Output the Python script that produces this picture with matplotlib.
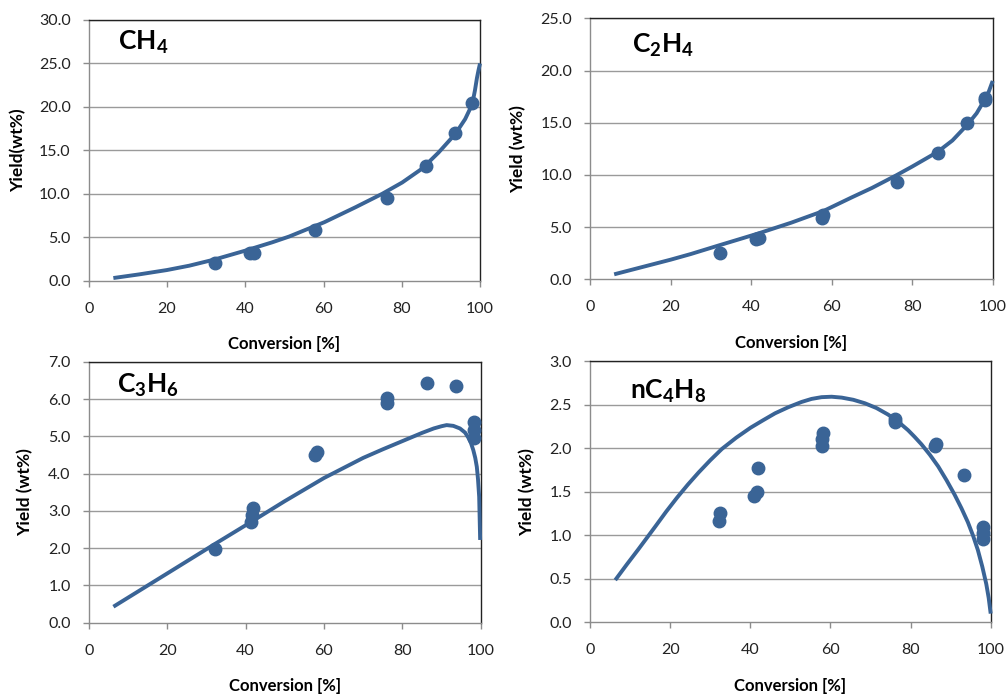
import matplotlib
matplotlib.use("Agg")
import matplotlib.pyplot as plt
from matplotlib.ticker import FormatStrFormatter

plt.rcParams['font.family'] = ['Lato', 'DejaVu Sans']
plt.rcParams['mathtext.fontset'] = 'custom'
plt.rcParams['mathtext.rm'] = 'Lato'
plt.rcParams['mathtext.bf'] = 'Lato:bold'
plt.rcParams['mathtext.it'] = 'Lato:italic'

BLUE = '#3a6496'

# ---------------- data ----------------
# CH4
ch4_exp_x = [32.3, 41.3, 42.2, 57.8, 76.2, 86.3, 93.6, 97.9]
ch4_exp_y = [2.0, 3.15, 3.2, 5.83, 9.47, 13.25, 17.0, 20.4]
ch4_mod_x = [6.3, 12.9, 20, 25.7, 32.3, 40, 46.9, 51.2, 60.2, 68.2, 75, 80.1, 85.2, 89.4, 93.7, 96.2, 98, 98.7, 99.2, 99.6, 100]
ch4_mod_y = [0.31, 0.73, 1.23, 1.73, 2.46, 3.46, 4.42, 5.08, 6.73, 8.46, 10.0, 11.3, 12.9, 14.75, 16.9, 18.6, 20.3, 21.9, 23.3, 24.2, 25.0]

# C2H4
c2h4_exp_x = [32.3, 41.2, 42.0, 57.7, 57.8, 76.2, 86.3, 93.5, 98.0, 98.2]
c2h4_exp_y = [2.49, 3.9, 4.0, 5.9, 6.15, 9.36, 12.1, 14.94, 17.2, 17.4]
c2h4_mod_x = [6.0, 10, 15, 20, 25, 32, 38, 42, 50, 58, 65, 70, 76, 80, 86.3, 90, 93.8, 96, 98, 99, 100]
c2h4_mod_y = [0.48, 0.88, 1.38, 1.88, 2.42, 3.25, 3.95, 4.42, 5.43, 6.55, 7.85, 8.75, 9.95, 10.8, 12.2, 13.3, 14.85, 15.9, 17.2, 17.95, 19.0]

# C3H6
c3h6_exp_x = [32.2, 41.3, 41.7, 42.0, 57.7, 58.2, 76.0, 76.0, 86.4, 93.7, 98.3, 98.3, 98.3]
c3h6_exp_y = [1.97, 2.71, 2.89, 3.07, 4.50, 4.59, 6.02, 5.90, 6.42, 6.36, 5.37, 5.16, 4.95]
c3h6_mod_x = [6.3, 20, 32, 42, 50, 60, 70, 75, 80, 85, 88, 90, 91.3, 93, 94.7, 96, 96.8, 97.5, 98.1, 98.6, 99.0, 99.3, 99.6, 99.85]
c3h6_mod_y = [0.43, 1.32, 2.10, 2.74, 3.26, 3.88, 4.42, 4.65, 4.87, 5.09, 5.21, 5.27, 5.30, 5.28, 5.21, 5.10, 4.97, 4.82, 4.63, 4.42, 4.18, 3.85, 3.38, 2.22]

# nC4H8
c4h8_exp_x = [32.5, 32.3, 40.9, 41.8, 42.0, 58.2, 57.8, 57.8, 76.1, 76.0, 86.3, 86.2, 93.4, 98.1, 98.1, 98.1]
c4h8_exp_y = [1.25, 1.16, 1.45, 1.50, 1.77, 2.17, 2.10, 2.02, 2.33, 2.30, 2.05, 2.02, 1.69, 1.10, 1.03, 0.96]
c4h8_mod_x = [6.3, 9.2, 12.1, 16.3, 19.0, 21.7, 24.4, 27.1, 30.0, 32.9, 36.5, 40.1, 43.2, 46.2, 49.5, 52.8, 55.3,
              57.8, 60.3, 62.8, 65.7, 68.6, 71.5, 74.4, 77.0, 79.4, 81.0, 82.7, 84.8, 86.9, 89.0, 91.0, 92.7,
              94.3, 95.6, 96.8, 97.9, 98.9, 99.5, 100]
c4h8_mod_y = [0.485, 0.665, 0.84, 1.10, 1.27, 1.43, 1.58, 1.72, 1.86, 1.99, 2.12, 2.235, 2.32, 2.40, 2.47, 2.53, 2.565,
              2.585, 2.59, 2.58, 2.555, 2.515, 2.46, 2.385, 2.30, 2.205, 2.13, 2.045, 1.925, 1.79, 1.63, 1.465, 1.31,
              1.15, 0.995, 0.83, 0.64, 0.44, 0.28, 0.10]

titles = [r'$\mathbf{CH_4}$', r'$\mathbf{C_2H_4}$', r'$\mathbf{C_3H_6}$', r'$\mathbf{nC_4H_8}$']
ylabels = ['Yield(wt%)', 'Yield (wt%)', 'Yield (wt%)', 'Yield (wt%)']
xlabel = 'Conversion [%]'
x_ticks = [0, 20, 40, 60, 80, 100]
y_limits = [30.0, 25.0, 7.0, 3.0]
y_steps = [5.0, 5.0, 1.0, 0.5]

fig = plt.figure(figsize=(10.07, 6.94), dpi=100)
rects = [
    [0.0881, 0.5955, 0.3886, 0.3757],
    [0.5859, 0.5975, 0.3999, 0.3761],
    [0.0881, 0.1027, 0.3893, 0.3761],
    [0.5859, 0.1033, 0.3979, 0.3765],
]
title_pos = [(0.075, 0.885), (0.104, 0.866), (0.071, 0.879), (0.100, 0.857)]
ylabel_x = [-0.160, -0.157, -0.141, -0.137]
xlabel_y = [-0.213, -0.215, -0.210, -0.212]

exp = [(ch4_exp_x, ch4_exp_y), (c2h4_exp_x, c2h4_exp_y), (c3h6_exp_x, c3h6_exp_y), (c4h8_exp_x, c4h8_exp_y)]
mod = [(ch4_mod_x, ch4_mod_y), (c2h4_mod_x, c2h4_mod_y), (c3h6_mod_x, c3h6_mod_y), (c4h8_mod_x, c4h8_mod_y)]

for i in range(4):
    ax = fig.add_axes(rects[i])
    ymax = y_limits[i]
    step = y_steps[i]
    n = int(round(ymax / step))
    yt = [k * step for k in range(n + 1)]
    ax.set_xlim(0, 100)
    ax.set_ylim(0, ymax)
    ax.set_xticks(x_ticks)
    ax.set_yticks(yt)
    ax.yaxis.set_major_formatter(FormatStrFormatter('%.1f'))
    for v in yt[1:]:
        ax.axhline(v, color='#9a9a9a', lw=1.0, zorder=1)
    ax.plot(mod[i][0], mod[i][1], color=BLUE, lw=2.8, zorder=3, clip_on=False,
            solid_capstyle='butt', solid_joinstyle='round')
    ax.plot(exp[i][0], exp[i][1], 'o', color=BLUE, ms=9, zorder=4, clip_on=False)
    for s in ['left', 'bottom']:
        ax.spines[s].set_color('#8c8c8c')
        ax.spines[s].set_linewidth(1.0)
    for s in ['top', 'right']:
        ax.spines[s].set_color('#222222')
        ax.spines[s].set_linewidth(1.0)
    ax.tick_params(axis='both', direction='out', length=4, width=1.0, color='#8c8c8c',
                   labelsize=11.5, labelcolor='#222222')
    ax.tick_params(axis='x', pad=11)
    ax.tick_params(axis='y', pad=9)
    ax.set_xlabel(xlabel, fontsize=12, fontweight='bold')
    ax.xaxis.set_label_coords(0.5, xlabel_y[i])
    ax.set_ylabel(ylabels[i], fontsize=12.5, fontweight='bold')
    ax.yaxis.set_label_coords(ylabel_x[i], 0.5)
    ax.text(title_pos[i][0], title_pos[i][1], titles[i], transform=ax.transAxes,
            fontsize=19, ha='left', va='baseline', color='black')

fig.savefig('out.png', dpi=100)
